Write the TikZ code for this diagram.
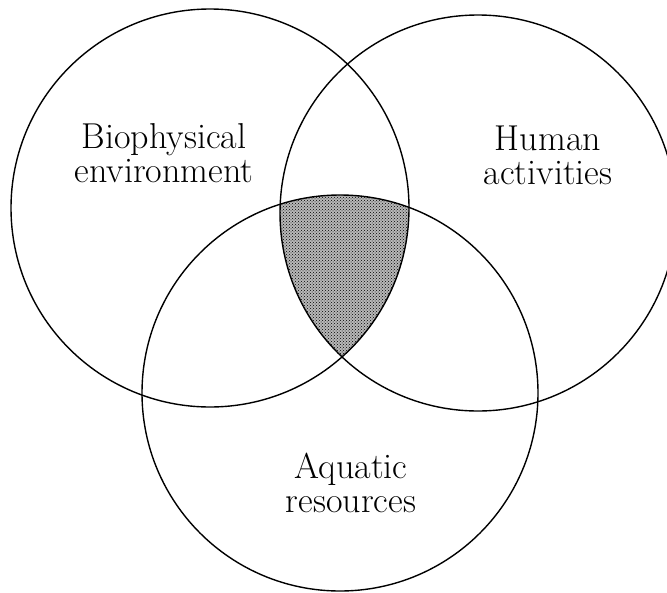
\documentclass[tikz,border=0pt]{standalone}
\usetikzlibrary{patterns}
\begin{document}
\begin{tikzpicture}[x=1pt,y=-1pt,
  ring/.style={draw=black,line width=1.4pt},
  lbl/.style={align=center,font=\fontsize{36}{34}\selectfont,inner sep=0pt,anchor=base}]
\useasboundingbox (0,0) rectangle (667,592);
\coordinate (cL) at (210,208);
\coordinate (cR) at (478,213);
\coordinate (cB) at (340,393);
\begin{scope}
  \clip (cL) circle (199);
  \clip (cR) circle (198);
  \fill[black!28] (cB) circle (198);
  \fill[pattern=crosshatch dots,pattern color=black] (cB) circle (198);
\end{scope}
\begin{scope}
  \clip (0,0) rectangle (667,592);
  \draw[ring] (cL) circle (199);
  \draw[ring] (cR) circle (198);
  \draw[ring] (cB) circle (198);
\end{scope}
\node[lbl] (bio) at (164,182) {Biophysical\\environment};
\node[lbl] (hum) at (548,184) {Human\\activities};
\node[lbl] (aqu) at (351,512) {Aquatic\\resources};
\end{tikzpicture}
\end{document}
